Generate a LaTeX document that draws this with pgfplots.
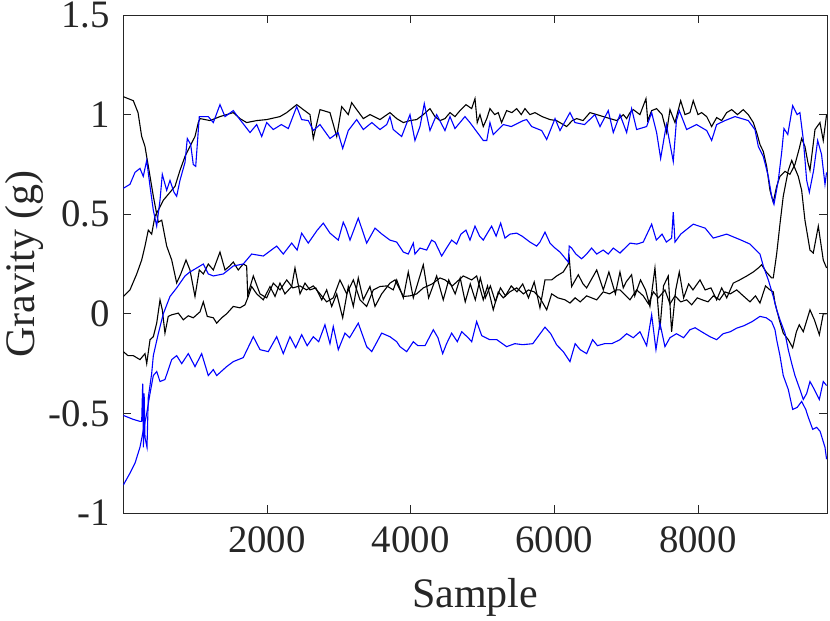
\documentclass[border=0pt]{standalone}
\usepackage{pgfplots}
\pgfplotsset{compat=1.18}
\usepackage{fontspec}
\setmainfont{Liberation Serif}
\definecolor{axgray}{rgb}{0.15,0.15,0.15}
\begin{document}
\fontsize{19.4}{23}\selectfont
\begin{tikzpicture}
\begin{axis}[
  name=ax,
  scale only axis,
  width=351.85pt, height=249pt,
  xmin=0, xmax=9796, ymin=-1, ymax=1.5,
  xtick={2000,4000,6000,8000},
  xticklabels={2000,4000,6000,8000},
  ytick={-1,-0.5,0,0.5,1,1.5},
  yticklabels={-1,-0.5,0,0.5,1,1.5},
  tick align=inside,
  major tick length=4pt,
  axis line style={axgray, line width=0.4pt},
  every tick/.style={axgray, line width=0.4pt},
  tick label style={font=\fontsize{19.4}{23}\selectfont, text=axgray},
  label style={font=\fontsize{21}{25}\selectfont, text=axgray},
  xlabel={Sample},
  ylabel={Gravity (g)},
  ylabel style={at={(axis description cs:0,0.5)}, anchor=base, inner sep=0pt, yshift=44.6pt},
  every axis plot/.append style={line width=0.55pt, mark=none},
]
% Black C
\addplot[black] coordinates {
(0,0.087)(93,0.12)(187,0.20)(256,0.27)(302,0.34)(348,0.42)(395,0.40)(441,0.49)(487,0.52)(557,0.57)(650,0.61)(720,0.64)(789,0.72)(859,0.79)(928,0.84)(998,0.89)(1044,0.96)(1068,0.98)(1207,0.97)(1346,0.99)(1531,1.01)(1624,0.98)(1717,0.96)(1857,0.97)(1996,0.975)(2181,0.99)(2275,1.01)(2414,1.05)(2506,1.025)(2599,1.0)(2645,0.88)(2738,1.025)(2877,1.01)(2971,0.89)(3040,1.04)(3132,1.0)(3179,1.06)(3249,1.025)(3341,0.98)(3434,1.0)(3573,0.975)(3712,1.01)(3806,0.98)(3898,0.96)(3991,0.97)(4084,0.975)(4176,1.0)(4269,1.03)(4339,0.99)(4408,0.97)(4478,0.98)(4548,1.01)(4617,0.99)(4687,1.02)(4770,1.05)(4850,1.03)(4896,1.08)(4927,0.96)(4965,1.0)(5011,0.94)(5060,0.98)(5104,1.03)(5170,1.0)(5220,1.01)(5266,0.96)(5336,1.02)(5410,1.01)(5476,1.03)(5540,1.0)(5591,1.03)(5660,1.0)(5731,1.01)(5830,0.99)(5940,0.975)(6030,0.97)(6125,0.95)(6172,0.94)(6250,0.97)(6311,0.98)(6400,0.97)(6496,1.01)(6590,1.0)(6682,0.99)(6775,0.98)(6870,0.97)(6960,1.0)(7007,0.98)(7053,1.01)(7099,1.025)(7192,1.0)(7276,1.08)(7300,0.97)(7355,1.02)(7424,1.03)(7500,1.0)(7563,0.91)(7610,1.025)(7680,0.96)(7759,1.07)(7819,1.0)(7888,1.01)(7934,1.07)(8000,1.0)(8051,1.01)(8121,0.99)(8190,0.94)(8260,0.985)(8330,0.97)(8399,1.01)(8469,1.025)(8550,1.0)(8630,1.025)(8700,1.0)(8770,0.96)(8817,0.91)(8863,0.85)(8909,0.815)(8956,0.74)(9002,0.62)(9048,0.56)(9095,0.64)(9141,0.69)(9211,0.715)(9280,0.70)(9350,0.75)(9410,0.83)(9443,0.88)(9489,0.84)(9530,0.76)(9559,0.72)(9629,0.925)(9698,0.96)(9744,0.87)(9790,1.0)
};
% Black A
\addplot[black] coordinates {
(0,1.09)(139,1.07)(205,1.01)(256,0.89)(302,0.84)(372,0.69)(418,0.59)(487,0.46)(535,0.47)(604,0.34)(674,0.27)(743,0.155)(800,0.20)(873,0.27)(928,0.22)(998,0.087)(1058,0.22)(1114,0.20)(1183,0.25)(1253,0.22)(1346,0.31)(1416,0.22)(1480,0.24)(1531,0.26)(1600,0.22)(1670,0.25)(1717,0.24)(1732,0.095)(1810,0.19)(1903,0.10)(1996,0.08)(2088,0.154)(2181,0.12)(2275,0.17)(2360,0.13)(2460,0.14)(2550,0.12)(2645,0.14)(2738,0.10)(2831,0.06)(2923,0.08)(3016,0.17)(3110,0.10)(3202,0.17)(3295,0.07)(3388,0.037)(3480,0.12)(3573,0.137)(3667,0.14)(3758,0.12)(3806,0.17)(3898,0.08)(3967,0.21)(4037,0.08)(4176,0.246)(4250,0.08)(4362,0.19)(4454,0.07)(4530,0.17)(4620,0.10)(4690,0.18)(4760,0.06)(4830,0.15)(4900,0.07)(4970,0.18)(5040,0.08)(5110,0.14)(5180,0.06)(5250,0.13)(5320,0.09)(5400,0.14)(5480,0.11)(5560,0.15)(5640,0.08)(5720,0.16)(5800,0.03)(5870,0.17)(5963,0.17)(6033,0.19)(6125,0.21)(6194,0.25)(6208,0.28)(6241,0.137)(6334,0.196)(6400,0.15)(6450,0.13)(6590,0.22)(6682,0.12)(6760,0.21)(6850,0.10)(6914,0.21)(6960,0.13)(7000,0.16)(7076,0.196)(7120,0.09)(7200,0.17)(7270,0.12)(7331,0.037)(7401,0.23)(7470,-0.08)(7520,0.14)(7586,0.19)(7633,-0.09)(7690,0.12)(7740,0.21)(7800,0.08)(7870,0.15)(7930,0.12)(8028,0.17)(8100,0.12)(8180,0.13)(8260,0.07)(8330,0.13)(8400,0.08)(8491,0.154)(8580,0.17)(8680,0.19)(8770,0.21)(8840,0.23)(8886,0.246)(8950,0.21)(9025,0.18)(9048,0.18)(9095,0.30)(9141,0.45)(9187,0.59)(9257,0.72)(9305,0.77)(9350,0.73)(9396,0.69)(9443,0.62)(9489,0.47)(9559,0.32)(9605,0.305)(9675,0.44)(9744,0.27)(9790,0.23)
};
% Black B
\addplot[black] coordinates {
(0,-0.19)(65,-0.21)(139,-0.21)(232,-0.23)(302,-0.20)(326,-0.25)(372,-0.13)(418,-0.115)(465,-0.047)(511,0.07)(543,0.02)(580,-0.097)(626,-0.013)(674,-0.005)(766,0.0035)(835,-0.03)(905,-0.01)(974,-0.02)(1068,0.01)(1114,0.06)(1169,-0.013)(1253,-0.02)(1300,-0.047)(1370,-0.02)(1439,0.0)(1531,0.037)(1624,0.03)(1694,0.045)(1740,0.087)(1787,0.137)(1857,0.10)(1949,0.07)(2042,0.137)(2112,0.087)(2181,0.154)(2250,0.10)(2344,0.137)(2390,0.23)(2460,0.10)(2529,0.154)(2599,0.12)(2680,0.13)(2762,0.07)(2831,0.12)(2901,0.037)(2971,0.10)(3054,-0.02)(3132,0.137)(3202,0.037)(3271,0.18)(3341,0.07)(3434,0.137)(3504,0.037)(3597,0.10)(3712,0.154)(3782,0.17)(3852,0.12)(3900,0.087)(3991,0.09)(4084,0.10)(4176,0.13)(4300,0.15)(4408,0.18)(4480,0.17)(4580,0.14)(4733,0.19)(4850,0.17)(4919,0.19)(5011,0.07)(5070,0.14)(5150,0.02)(5220,0.11)(5290,0.08)(5380,0.11)(5476,0.13)(5570,0.10)(5640,0.12)(5720,0.11)(5800,0.08)(5894,0.02)(5963,0.10)(6050,0.08)(6150,0.07)(6218,0.054)(6290,0.08)(6360,0.06)(6450,0.09)(6590,0.07)(6680,0.11)(6770,0.10)(6860,0.12)(6914,0.12)(7053,0.07)(7146,0.12)(7238,0.09)(7310,0.05)(7380,0.11)(7450,0.08)(7540,0.12)(7610,0.05)(7680,0.09)(7760,0.06)(7842,0.07)(7912,0.045)(7990,0.08)(8060,0.07)(8140,0.06)(8213,0.09)(8300,0.07)(8376,0.11)(8450,0.10)(8539,0.12)(8630,0.09)(8724,0.06)(8800,0.09)(8863,0.054)(8940,0.14)(9002,0.12)(9048,0.11)(9072,0.054)(9132,-0.03)(9187,-0.097)(9257,-0.13)(9318,-0.17)(9370,-0.09)(9410,-0.055)(9466,-0.09)(9559,0.02)(9620,-0.03)(9689,-0.105)(9744,0.0)(9790,0.0)
};
% Blue D
\addplot[blue] coordinates {
(0,0.63)(93,0.65)(163,0.71)(232,0.73)(278,0.69)(326,0.77)(372,0.64)(418,0.52)(465,0.44)(511,0.57)(543,0.70)(604,0.62)(650,0.67)(706,0.61)(743,0.59)(789,0.67)(859,0.76)(891,0.88)(938,0.85)(974,0.75)(1008,0.74)(1058,0.99)(1183,0.99)(1253,0.96)(1346,1.05)(1416,0.99)(1531,1.02)(1624,0.975)(1764,0.91)(1857,0.95)(1927,0.89)(1996,0.96)(2088,0.925)(2200,0.95)(2297,0.93)(2414,1.04)(2483,0.975)(2575,0.97)(2645,0.92)(2738,0.95)(2877,0.88)(2990,0.91)(3054,0.83)(3132,0.92)(3249,0.975)(3341,0.925)(3460,0.96)(3573,0.925)(3667,0.95)(3712,0.99)(3758,0.925)(3875,0.89)(3991,1.0)(4060,0.87)(4130,0.94)(4190,1.055)(4269,0.92)(4362,1.0)(4478,0.92)(4548,0.99)(4617,0.93)(4756,0.99)(4826,0.96)(5011,0.87)(5060,0.87)(5104,0.96)(5150,0.90)(5290,0.95)(5400,0.94)(5568,0.97)(5615,0.975)(5685,0.94)(5824,0.92)(5894,0.875)(6010,0.98)(6079,0.92)(6218,1.01)(6287,0.96)(6420,0.95)(6565,1.0)(6636,0.94)(6751,1.02)(6821,0.91)(6914,1.0)(7007,0.91)(7076,1.03)(7146,0.925)(7285,0.94)(7355,1.01)(7424,0.91)(7480,0.78)(7560,0.95)(7656,0.765)(7700,0.97)(7740,1.02)(7842,0.925)(7980,0.95)(8121,0.92)(8190,0.87)(8260,0.95)(8376,0.97)(8515,0.99)(8700,0.97)(8793,0.925)(8840,0.84)(8909,0.79)(8979,0.69)(9025,0.59)(9058,0.55)(9118,0.67)(9165,0.81)(9197,0.93)(9250,0.90)(9318,1.045)(9380,1.0)(9419,1.01)(9466,0.875)(9513,0.67)(9550,0.61)(9610,0.72)(9666,0.87)(9720,0.80)(9768,0.65)(9790,0.71)
};
% Blue E
\addplot[blue] coordinates {
(0,-0.51)(139,-0.53)(232,-0.54)(256,-0.54)(270,-0.35)(280,-0.67)(290,-0.40)(302,-0.62)(330,-0.67)(348,-0.42)(395,-0.30)(418,-0.21)(487,-0.10)(557,0.0)(650,0.087)(743,0.13)(859,0.19)(928,0.21)(1022,0.23)(1114,0.25)(1183,0.20)(1253,0.19)(1392,0.20)(1531,0.24)(1670,0.25)(1787,0.30)(1949,0.29)(2135,0.34)(2227,0.30)(2344,0.355)(2420,0.32)(2483,0.405)(2575,0.355)(2700,0.42)(2784,0.455)(2877,0.405)(2993,0.37)(3062,0.46)(3100,0.43)(3156,0.37)(3271,0.48)(3388,0.355)(3504,0.43)(3600,0.40)(3712,0.37)(3806,0.36)(3898,0.31)(3967,0.30)(4037,0.355)(4060,0.30)(4130,0.33)(4223,0.32)(4292,0.37)(4339,0.36)(4432,0.29)(4500,0.33)(4571,0.37)(4640,0.35)(4700,0.40)(4770,0.42)(4826,0.37)(4896,0.44)(4960,0.39)(5011,0.37)(5060,0.40)(5127,0.44)(5190,0.39)(5253,0.455)(5313,0.38)(5383,0.40)(5476,0.405)(5550,0.39)(5661,0.36)(5754,0.34)(5800,0.36)(5870,0.41)(5940,0.355)(6010,0.33)(6079,0.31)(6148,0.28)(6194,0.26)(6208,0.34)(6241,0.33)(6300,0.30)(6380,0.276)(6450,0.30)(6519,0.33)(6590,0.30)(6680,0.32)(6751,0.30)(6821,0.33)(6914,0.305)(7053,0.355)(7150,0.35)(7238,0.36)(7355,0.45)(7420,0.37)(7500,0.40)(7560,0.36)(7633,0.38)(7656,0.51)(7680,0.36)(7760,0.40)(7934,0.45)(8100,0.43)(8213,0.38)(8399,0.40)(8600,0.37)(8724,0.35)(8863,0.30)(8909,0.24)(8979,0.17)(9048,0.087)(9095,0.02)(9141,-0.03)(9211,-0.097)(9257,-0.18)(9305,-0.25)(9350,-0.31)(9419,-0.38)(9466,-0.43)(9513,-0.40)(9559,-0.34)(9605,-0.37)(9689,-0.43)(9744,-0.34)(9790,-0.36)
};
% Blue F
\addplot[blue] coordinates {
(0,-0.86)(93,-0.80)(163,-0.75)(232,-0.67)(326,-0.5)(372,-0.40)(418,-0.31)(465,-0.29)(511,-0.34)(580,-0.33)(674,-0.23)(743,-0.21)(813,-0.25)(905,-0.20)(998,-0.265)(1091,-0.20)(1183,-0.31)(1253,-0.28)(1300,-0.31)(1439,-0.265)(1531,-0.24)(1670,-0.22)(1810,-0.115)(1903,-0.18)(2018,-0.19)(2135,-0.115)(2227,-0.20)(2320,-0.115)(2400,-0.17)(2483,-0.105)(2560,-0.16)(2645,-0.115)(2720,-0.14)(2807,-0.055)(2877,-0.15)(2923,-0.064)(2993,-0.18)(3086,-0.097)(3150,-0.12)(3271,-0.047)(3388,-0.165)(3458,-0.19)(3597,-0.097)(3712,-0.115)(3806,-0.14)(3852,-0.165)(3945,-0.19)(4037,-0.14)(4100,-0.16)(4200,-0.16)(4316,-0.08)(4380,-0.12)(4446,-0.20)(4500,-0.15)(4571,-0.097)(4650,-0.14)(4711,-0.09)(4800,-0.12)(4850,-0.14)(4919,-0.039)(4990,-0.11)(5100,-0.13)(5200,-0.13)(5336,-0.165)(5450,-0.15)(5560,-0.155)(5700,-0.15)(5870,-0.067)(5950,-0.10)(6033,-0.156)(6125,-0.19)(6218,-0.24)(6290,-0.15)(6360,-0.18)(6450,-0.20)(6533,-0.13)(6600,-0.16)(6700,-0.15)(6800,-0.15)(6914,-0.13)(7007,-0.10)(7099,-0.12)(7192,-0.09)(7285,-0.16)(7355,-0.005)(7415,-0.18)(7470,-0.047)(7540,-0.165)(7610,-0.12)(7700,-0.10)(7800,-0.12)(7888,-0.08)(7960,-0.07)(8050,-0.09)(8167,-0.115)(8260,-0.13)(8350,-0.10)(8450,-0.09)(8539,-0.072)(8640,-0.06)(8750,-0.04)(8863,-0.013)(8950,-0.02)(9025,-0.039)(9072,-0.08)(9095,-0.13)(9141,-0.21)(9187,-0.31)(9257,-0.38)(9318,-0.48)(9380,-0.47)(9443,-0.44)(9500,-0.48)(9536,-0.52)(9597,-0.58)(9652,-0.57)(9700,-0.59)(9768,-0.67)(9790,-0.73)
};
\end{axis}
\pgfresetboundingbox
\path ([xshift=-61.65pt,yshift=-54pt]ax.south west) rectangle ([xshift=1.5pt,yshift=7.5pt]ax.north east);
\end{tikzpicture}
\end{document}
